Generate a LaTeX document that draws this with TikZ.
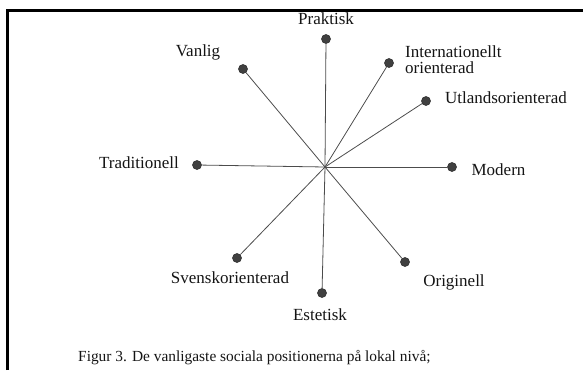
\documentclass[tikz,border=0pt]{standalone}
\usepackage{fontspec}
\setmainfont{Liberation Serif}
\begin{document}
\begin{tikzpicture}[x=1pt,y=-1pt,
  pdot/.style={circle,fill=black!75,draw=black!80,line width=0.6pt,minimum size=9pt,inner sep=0pt},
  spoke/.style={draw=black!70,line width=0.8pt},
  lbl/.style={inner sep=0pt,text=black!92,font=\fontsize{17}{15}\selectfont},
  captiontext/.style={inner sep=0pt,text=black!92,font=\fontsize{15.4}{17}\selectfont},
  framestyle/.style={draw=black,line width=3pt}]
\useasboundingbox (0,0) rectangle (583,370);
% frame
\coordinate (fl) at (7.5,370);
\coordinate (ftl) at (7.5,10.8);
\coordinate (ftr) at (583,10.8);
\draw[framestyle] (fl) -- (ftl) -- (ftr);
% centre
\coordinate (c) at (325,167);
% dots
\node[pdot] (p) at (326,39) {};
\node[pdot] (v) at (243,69) {};
\node[pdot] (i) at (389,63) {};
\node[pdot] (u) at (426,101) {};
\node[pdot] (t) at (197,165) {};
\node[pdot] (m) at (452,167) {};
\node[pdot] (s) at (237,258) {};
\node[pdot] (e) at (322,293) {};
\node[pdot] (o) at (405,262) {};
% spokes
\foreach \n in {p,v,i,u,t,m,s,e,o}
  \draw[spoke] (c) -- (\n);
% labels
\node[lbl] (lp) at (326,19) {Praktisk};
\node[lbl] (lv) at (198,52) {Vanlig};
\node[lbl,anchor=west] (li1) at (405,52) {Internationellt};
\node[lbl,anchor=west] (li2) at (405,67.5) {orienterad};
\node[lbl] (lu) at (506,98) {Utlandsorienterad};
\node[lbl] (lt) at (139,163) {Traditionell};
\node[lbl] (lm) at (498.5,170) {Modern};
\node[lbl] (ls) at (230,278) {Svenskorienterad};
\node[lbl] (le) at (320,315) {Estetisk};
\node[lbl] (lo) at (454,282) {Originell};
\node[captiontext,anchor=west] (capt) at (78,358) {Figur 3. De vanligaste sociala positionerna på lokal nivå;};
\end{tikzpicture}
\end{document}
